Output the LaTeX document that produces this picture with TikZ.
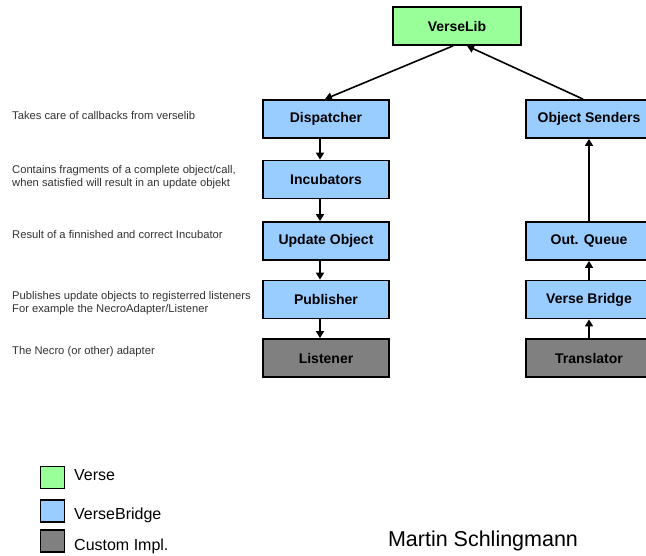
\documentclass[tikz,border=0pt]{standalone}
\usepackage{fontspec}
\setmainfont{Liberation Sans}
\usetikzlibrary{arrows.meta}
\definecolor{versegreen}{RGB}{153,255,153}
\definecolor{bridgeblue}{RGB}{153,204,255}
\definecolor{customgray}{RGB}{128,128,128}
\tikzset{
  box/.style={draw=black, line width=1.8pt, minimum width=126pt, minimum height=38pt, inner sep=0pt, font=\fontsize{14}{16}\selectfont\bfseries},
  greenbox/.style={box, fill=versegreen, minimum width=128pt},
  bluebox/.style={box, fill=bridgeblue},
  graybox/.style={box, fill=customgray},
  arr/.style={line width=1.6pt, -{Triangle[length=7pt,width=8pt]}},
  note/.style={anchor=west, align=left, inner sep=0pt, font=\fontsize{11.2}{13}\selectfont, text=black!80},
  legsq/.style={draw=black, line width=1.6pt, minimum width=24pt, minimum height=22pt, inner sep=0pt},
  legtxt/.style={anchor=west, inner sep=0pt, font=\fontsize{16}{18}\selectfont}
}
\begin{document}
\begin{tikzpicture}[x=1pt,y=-1pt]
\fill[white] (0,0) rectangle (646,556);
\clip (0,0) rectangle (646,556);
% main boxes
\node[greenbox] (vl) at (457,26) {VerseLib};
\node[bluebox] (disp) at (326,119) {Dispatcher};
\node[bluebox] (inc) at (326,179.5) {Incubators};
\node[bluebox] (upd) at (326,241) {Update Object};
\node[bluebox] (pub) at (326,299.5) {Publisher};
\node[graybox] (lis) at (326,358) {Listener};
\node[bluebox] (os) at (589,119) {Object Senders};
\node[bluebox] (oq) at (589,241) {Out. Queue};
\node[bluebox] (vb) at (589,299.5) {Verse Bridge};
\node[graybox] (tr) at (589,358) {Translator};
% connectors
\draw[arr] ([xshift=-4pt]vl.south) -- ([xshift=-1pt]disp.north);
\draw[arr] ([xshift=-6pt]os.north) -- ([xshift=10pt]vl.south);
\draw[arr] ([xshift=-6pt]disp.south) -- ([xshift=-6pt]inc.north);
\draw[arr] ([xshift=-6pt]inc.south) -- ([xshift=-6pt]upd.north);
\draw[arr] ([xshift=-6pt]upd.south) -- ([xshift=-6pt]pub.north);
\draw[arr] ([xshift=-6pt]pub.south) -- ([xshift=-6pt]lis.north);
\draw[arr] (oq.north) -- (os.south);
\draw[arr] (vb.north) -- (oq.south);
\draw[arr] (tr.north) -- (vb.south);
% notes
\node[note] (n1) at (12,115) {Takes care of callbacks from verselib};
\node[note] (n2) at (12,177.5) {Contains fragments of a complete object/call,\\when satisfied will result in an update objekt};
\node[note] (n3) at (12,234) {Result of a finnished and correct Incubator};
\node[note] (n4) at (12,303.5) {Publishes update objects to registerred listeners\\For example the NecroAdapter/Listener};
\node[note] (n5) at (12,352) {The Necro (or other) adapter};
% legend
\node[legsq, fill=versegreen] (l1) at (52.5,477.5) {};
\node[legsq, fill=bridgeblue] (l2) at (52.5,511) {};
\node[legsq, fill=customgray] (l3) at (52.5,541) {};
\node[legtxt] (t1) at (74,475) {Verse};
\node[legtxt] (t2) at (74,515) {VerseBridge};
\node[legtxt] (t3) at (74,546) {Custom Impl.};
\node[font=\fontsize{21.5}{24}\selectfont, inner sep=0pt] (auth) at (483,541) {Martin Schlingmann};
\end{tikzpicture}
\end{document}
